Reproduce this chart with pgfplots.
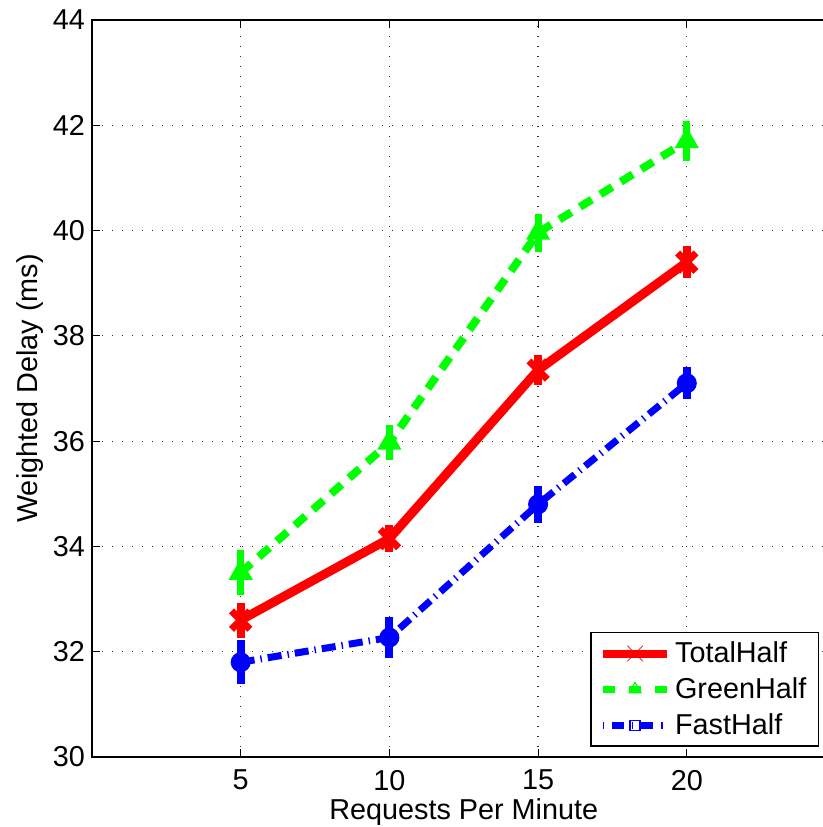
\documentclass[border=0pt]{standalone}
\usepackage{fontspec}
\setmainfont{Liberation Sans}
\usepackage{pgfplots}
\pgfplotsset{compat=1.18}
\definecolor{mred}{RGB}{255,0,0}
\definecolor{mgreen}{RGB}{0,255,0}
\definecolor{mblue}{RGB}{0,0,255}
\begin{document}
\begin{tikzpicture}
\begin{axis}[
  at={(0,0)}, anchor=south west,
  scale only axis,
  width=371.75pt, height=368.5pt,
  xmin=0, xmax=25, ymin=30, ymax=44,
  xtick={5,10,15,20}, ytick={30,32,...,44},
  tick align=inside, major tick length=4pt,
  tick style={black, line width=0.5pt},
  axis line style={line width=0.8pt},
  grid=major,
  major grid style={black!80, line width=0.6pt, dash pattern=on 0.6pt off 4.4pt},
  /pgf/number format/assume math mode=true,
  tick label style={font=\fontsize{14.4}{17}\selectfont},
  label style={font=\fontsize{14.4}{17}\selectfont},
  xticklabel style={yshift=-3pt},
  xlabel={Requests Per Minute},
  ylabel={Weighted Delay (ms)},
  xlabel style={yshift=3pt},
  ylabel style={yshift=-2pt},
  legend style={at={(0.978,0.0136)}, anchor=south east,
    font=\fontsize{14.4}{17}\selectfont, draw=black, line width=0.8pt,
    row sep=2pt, inner xsep=4pt, inner ysep=2.5pt},
  legend cell align=left,
  legend image code/.code={%
    \draw[mark repeat=2,mark phase=2,#1] plot coordinates {(0pt,0pt)(16pt,0pt)(32pt,0pt)};},
]
\addplot[forget plot, mred, line width=4.5pt, solid, mark=x, mark size=6.5pt,
  mark options={line width=3.5pt, solid},
  error bars/.cd, y dir=both, y explicit, error mark=none,
  error bar style={line width=4pt, solid}]
  coordinates {(5,32.6) +- (0,0.33) (10,34.15) +- (0,0.26) (15,37.35) +- (0,0.29) (20,39.4) +- (0,0.3)};
\addplot[forget plot, mgreen, line width=4pt, dash pattern=on 7pt off 5pt, mark=triangle*, mark size=4.5pt,
  mark options={line width=2.5pt, solid},
  error bars/.cd, y dir=both, y explicit, error mark=none,
  error bar style={line width=3.5pt, solid}]
  coordinates {(5,33.5) +- (0,0.43) (10,35.97) +- (0,0.33) (15,39.96) +- (0,0.36) (20,41.7) +- (0,0.38)};
\addplot[forget plot, mblue, line width=3.5pt, dash pattern=on 7pt off 3pt on 0.7pt off 3pt, mark=*, mark size=4.5pt,
  mark options={line width=1pt, solid},
  error bars/.cd, y dir=both, y explicit, error mark=none,
  error bar style={line width=4pt, solid}]
  coordinates {(5,31.8) +- (0,0.42) (10,32.27) +- (0,0.39) (15,34.8) +- (0,0.35) (20,37.1) +- (0,0.3)};
\addlegendimage{mred, line width=4pt, solid, mark=x, mark size=5.5pt, mark options={line width=0.4pt, solid}}
\addlegendentry{TotalHalf}
\addlegendimage{mgreen, line width=3.5pt, dash pattern=on 6pt off 7pt, mark=triangle, mark size=3.5pt, mark options={line width=0.6pt, solid}}
\addlegendentry{GreenHalf}
\addlegendimage{mblue, line width=3.5pt, dash pattern=on 0.6pt off 4pt on 6pt off 4pt, mark=square, mark size=2.5pt, mark options={line width=0.6pt, solid}}
\addlegendentry{FastHalf}
\end{axis}
\pgfresetboundingbox
\useasboundingbox (-46pt,-35pt) rectangle (365.5pt,378.5pt);
\end{tikzpicture}
\end{document}
